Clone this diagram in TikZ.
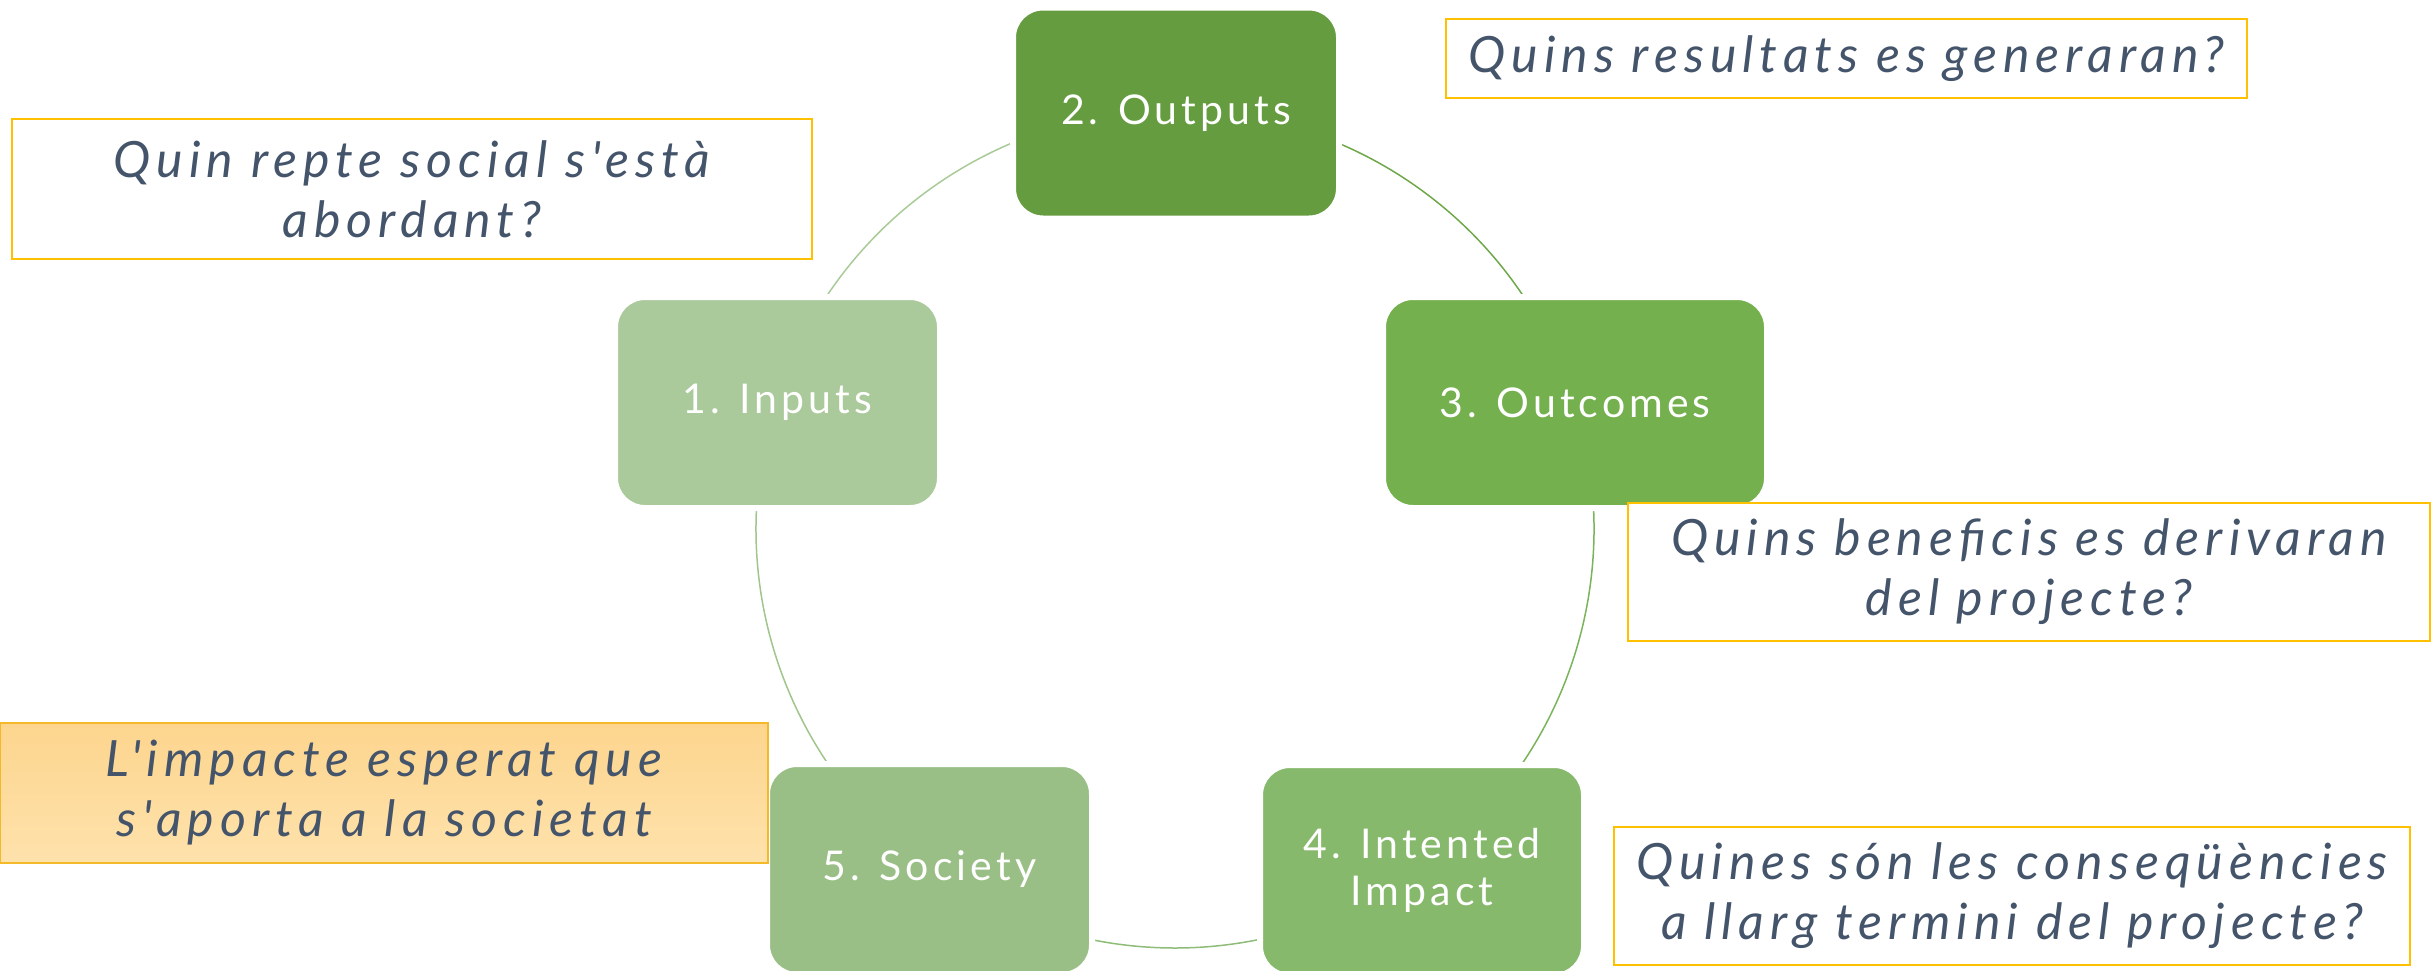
\documentclass[tikz,border=0pt]{standalone}
\usepackage{fontspec}
\setmainfont{Lato}
\newfontfamily\boxfont[LetterSpace=10]{Lato}
\newfontfamily\callfont[LetterSpace=12]{Lato}
\definecolor{cIn}{HTML}{ABCA9C}
\definecolor{cOut}{HTML}{659C3F}
\definecolor{cOc}{HTML}{74B04E}
\definecolor{cImp}{HTML}{87B96C}
\definecolor{cSoc}{HTML}{9ABF86}
\definecolor{aA}{HTML}{A9CB97}
\definecolor{aB}{HTML}{6FA84A}
\definecolor{aC}{HTML}{7AB35A}
\definecolor{aD}{HTML}{8FBC78}
\definecolor{aE}{HTML}{A0C58D}
\definecolor{gold}{HTML}{FFC000}
\definecolor{txt}{HTML}{44546A}
\definecolor{orTop}{HTML}{FDD58E}
\definecolor{orBot}{HTML}{FEE2AC}
\definecolor{orBd}{HTML}{F4B929}
\tikzset{
  stepbox/.style={rectangle, rounded corners=30pt, draw=white, line width=6pt,
    inner sep=0pt, align=center, text=white,
    font=\boxfont\fontsize{41}{47}\selectfont},
  callout/.style={rectangle, draw=gold, line width=2.5pt, fill=white, inner sep=0pt,
    align=center, text=txt, font=\callfont\itshape\fontsize{50}{60}\selectfont},
  ring/.style={line width=1.5pt}
}
\begin{document}
\begin{tikzpicture}[x=1pt,y=-1pt]
\useasboundingbox (0,0) rectangle (2433,970);
\coordinate (c) at (1175,529);
% ring segments
\draw[ring,aA] (c) ++(198:419) arc[start angle=198,end angle=270,radius=419];
\draw[ring,aB] (c) ++(-90:419) arc[start angle=-90,end angle=-18,radius=419];
\draw[ring,aC] (c) ++(-18:419) arc[start angle=-18,end angle=54,radius=419];
\draw[ring,aD] (c) ++(54:419) arc[start angle=54,end angle=126,radius=419];
\draw[ring,aE] (c) ++(126:419) arc[start angle=126,end angle=198,radius=419];
% step boxes
\node[stepbox, fill=cIn, minimum width=325pt, minimum height=211pt] (n1) at (777.5,402.5) {1. Inputs};
\node[stepbox, fill=cOut, minimum width=326pt, minimum height=211pt] (n2) at (1176,113) {2. Outputs};
\node[stepbox, fill=cOc, minimum width=384pt, minimum height=211pt] (n3) at (1575,402.5) {3. Outcomes};
\node[stepbox, fill=cImp, minimum width=324pt, minimum height=211pt] (n4) at (1422,870.5) {4. Intented\\Impact};
\node[stepbox, fill=cSoc, minimum width=325pt, minimum height=211pt] (n5) at (929.5,869.5) {5. Society};
% callouts
\node[callout, minimum width=801pt, minimum height=79pt] (qa) at (1846.5,58.5) {\raisebox{-4pt}{Quins resultats es generaran?}};
\node[callout, minimum width=800pt, minimum height=140pt] (qb) at (412,189) {Quin repte social s'està\\abordant?};
\node[callout, minimum width=802pt, minimum height=138pt] (qc) at (2029,572) {Quins beneficis es derivaran\\del projecte?};
\node[callout, minimum width=796pt, minimum height=138pt] (qd) at (2012,896) {Quines són les conseqüències\\a llarg termini del projecte?};
\node[callout, draw=orBd, top color=orTop, bottom color=orBot, minimum width=768pt, minimum height=140pt] (qe) at (384,793) {L'impacte esperat que\\s'aporta a la societat};
\end{tikzpicture}
\end{document}
